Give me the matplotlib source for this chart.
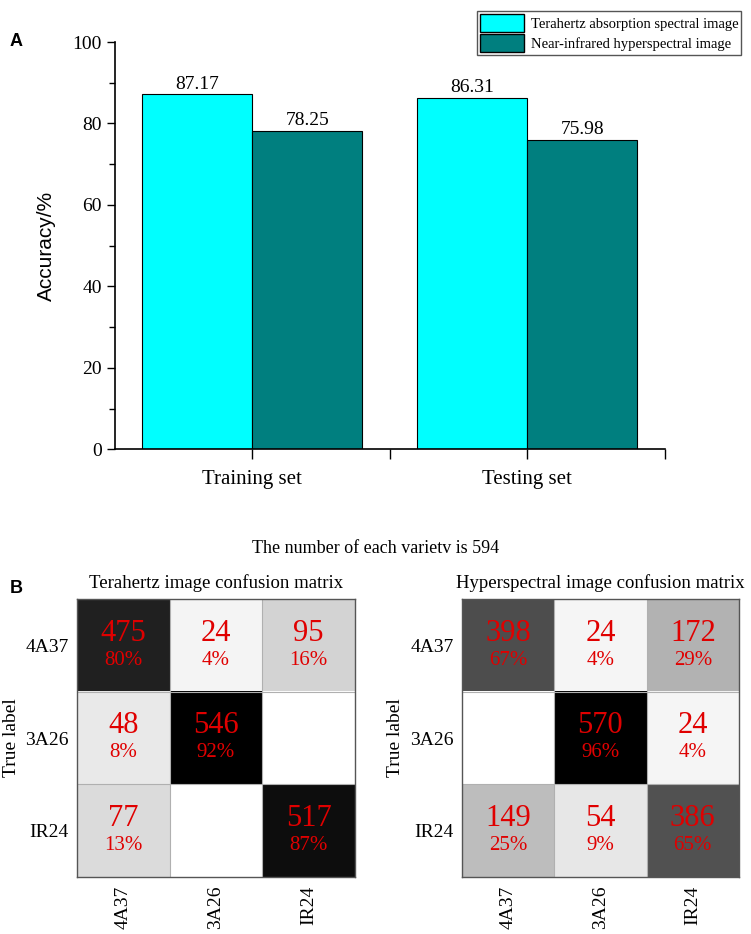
import numpy as np
import matplotlib
matplotlib.use('Agg')
import matplotlib.pyplot as plt
from matplotlib.ticker import MultipleLocator, FixedLocator
from matplotlib.patches import Patch

# panel A data
sets = ['Training set', 'Testing set']
thz_acc = [87.17, 86.31]
nir_acc = [78.25, 75.98]
series_names = ['Terahertz absorption spectral image', 'Near-infrared hyperspectral image']

# panel B data
classes = ['4A37', '3A26', 'IR24']
n_each = 594
thz_cm = [[475, 24, 95],
          [48, 546, 0],
          [77, 0, 517]]
nir_cm = [[398, 24, 172],
          [0, 570, 24],
          [149, 54, 386]]

serif = ['Liberation Serif', 'DejaVu Serif']
plt.rcParams['font.family'] = serif

fig = plt.figure(figsize=(7.51, 9.34), dpi=100)

# ---- panel A ----
ax = fig.add_axes([0.153, 0.519, 0.732, 0.436])
x = np.arange(len(sets))
w = 0.4
b1 = ax.bar(x - w / 2, thz_acc, w, color='#00ffff', edgecolor='black', linewidth=0.8)
b2 = ax.bar(x + w / 2, nir_acc, w, color='#007f7f', edgecolor='black', linewidth=0.8)
for bars in (b1, b2):
    for r in bars:
        ax.annotate('%.2f' % r.get_height(), (r.get_x() + r.get_width() / 2, r.get_height()),
                    xytext=(0, 1), textcoords='offset points', ha='center', va='bottom', fontsize=14)
ax.set_xlim(-0.5, 1.5)
ax.set_ylim(0, 100)
ax.set_xticks(x)
ax.set_xticklabels(sets, fontsize=15)
ax.xaxis.set_minor_locator(FixedLocator([0.5, 1.5]))
ax.yaxis.set_major_locator(MultipleLocator(20))
ax.yaxis.set_minor_locator(MultipleLocator(10))
ax.tick_params(axis='y', labelsize=14, length=6, width=1)
ax.tick_params(axis='y', which='minor', length=4, width=1)
ax.tick_params(axis='x', which='both', length=7, width=1, pad=8)
ax.spines['top'].set_visible(False)
ax.spines['right'].set_visible(False)
ax.spines['left'].set_linewidth(1.2)
ax.spines['bottom'].set_linewidth(1.2)
ax.set_ylabel('Accuracy/%', fontsize=15, family=['Liberation Sans', 'DejaVu Sans'], labelpad=12)

handles = [Patch(facecolor='#00ffff', edgecolor='black'), Patch(facecolor='#007f7f', edgecolor='black')]
fig.legend(handles, series_names, loc='upper right', bbox_to_anchor=(0.997, 0.996),
           fontsize=10.5, fancybox=False, edgecolor='#555555', framealpha=1,
           handlelength=3.0, handleheight=1.5, borderpad=0.2, labelspacing=0.15, handletextpad=0.5)

fig.text(0.013, 0.951, 'A', fontsize=13, fontweight='bold', family=['Liberation Sans', 'DejaVu Sans'])
fig.text(0.013, 0.365, 'B', fontsize=13, fontweight='bold', family=['Liberation Sans', 'DejaVu Sans'])
fig.text(0.5, 0.413, 'The number of each varietv is %d' % n_each, ha='center', va='center', fontsize=13)


def draw_cm(ax, cm, title):
    cm = np.array(cm)
    ax.imshow(cm, cmap='gray_r', vmin=0, vmax=cm.max(), aspect='auto')
    for i in range(cm.shape[0]):
        for j in range(cm.shape[1]):
            v = cm[i, j]
            if v == 0:
                continue
            ax.text(j, i - 0.13, str(v), ha='center', va='center', color='#e00000', fontsize=22)
            ax.text(j, i + 0.16, '%d%%' % round(v * 100.0 / n_each), ha='center', va='center',
                    color='#e00000', fontsize=15)
    for k in (0.5, 1.5):
        ax.axhline(k, color='#b0b0b0', lw=0.8)
        ax.axvline(k, color='#b0b0b0', lw=0.8)
    ax.set_xticks(range(len(classes)))
    ax.set_yticks(range(len(classes)))
    ax.set_xticklabels(classes, rotation=90, fontsize=14)
    ax.set_yticklabels(classes, fontsize=14)
    ax.tick_params(axis='y', length=0, pad=6)
    ax.tick_params(axis='x', length=0, pad=6)
    ax.set_ylabel('True label', fontsize=14, labelpad=4)
    ax.set_title(title, fontsize=13.5, pad=8)
    for s in ax.spines.values():
        s.set_color('#555555')
        s.set_linewidth(1.0)


ax1 = fig.add_axes([0.1025, 0.061, 0.370, 0.2977])
draw_cm(ax1, thz_cm, 'Terahertz image confusion matrix')
ax2 = fig.add_axes([0.615, 0.061, 0.369, 0.2977])
draw_cm(ax2, nir_cm, 'Hyperspectral image confusion matrix')

fig.savefig('out.png', dpi=100)
